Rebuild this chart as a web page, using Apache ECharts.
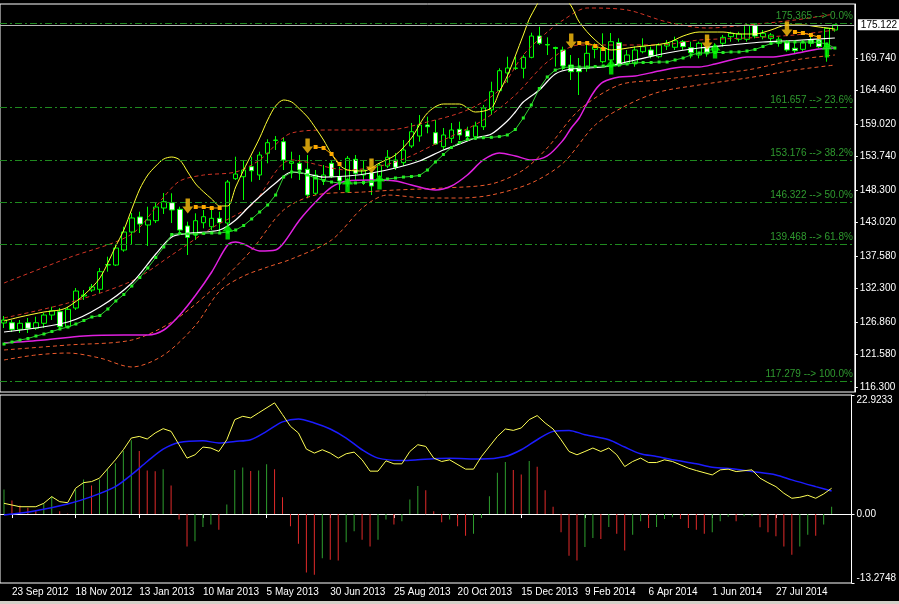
<!DOCTYPE html>
<html><head><meta charset="utf-8">
<script src="https://cdn.jsdelivr.net/npm/echarts@6/dist/echarts.min.js"></script>
<style>html,body{margin:0;padding:0;background:#000;}#c{width:899px;height:604px;}</style>
</head><body><div id="c"></div>
<script>
// ---------- DATA ----------
const tickLabels = ['23 Sep 2012','18 Nov 2012','13 Jan 2013','10 Mar 2013','5 May 2013','30 Jun 2013','25 Aug 2013','20 Oct 2013','15 Dec 2013','9 Feb 2014','6 Apr 2014','1 Jun 2014','27 Jul 2014'];
const firstWeek = '2012-09-16';
const weekCount = 107; // 105 bars + chart shift
const priceLabels = [169.740,164.460,159.020,153.740,148.300,143.020,137.580,132.300,126.860,121.580,116.300];
const lastPrice = 175.122;
const fibLevels = [[175.365,'0.0%'],[161.657,'23.6%'],[153.176,'38.2%'],[146.322,'50.0%'],[139.468,'61.8%'],[117.279,'100.0%']];
const oscLabels = [-13.2748, 0, 22.9233];

// candles: [open, close, low, high]
const candles = [
[126.70,127.18,125.88,127.83],[126.74,125.67,125.23,127.18],[125.67,126.65,125.07,127.18],[126.74,125.83,125.07,127.51],
[125.83,126.74,125.56,127.72],[126.65,127.99,125.88,128.32],[127.99,128.69,127.18,129.34],[128.53,126.09,125.72,129.13],
[126.09,128.92,126.04,129.34],[129.13,131.89,128.81,132.38],[131.08,131.24,130.43,132.05],[132.05,132.54,131.73,133.03],
[132.17,135.03,131.57,135.63],[136.11,136.20,135.03,137.46],[136.11,138.87,135.95,139.36],[138.55,141.47,138.27,142.33],
[141.47,143.75,139.36,144.56],[143.91,142.77,141.31,144.77],[142.61,143.42,139.20,145.58],[143.31,145.53,142.93,146.18],
[145.37,146.39,144.40,147.81],[146.23,145.05,142.93,147.76],[145.16,141.80,141.31,145.58],[142.45,140.61,137.74,143.15],
[140.99,143.31,140.17,144.51],[142.98,143.96,142.07,145.05],[142.33,143.70,141.80,145.05],[143.70,142.98,141.52,144.77],
[142.93,149.59,142.45,149.92],[150.13,150.89,149.92,153.70],[150.45,151.54,146.67,153.17],[152.08,151.43,149.64,153.70],
[150.73,153.98,149.92,154.51],[154.25,155.98,152.63,156.53],[156.33,156.41,154.79,157.06],[156.14,153.17,151.54,156.74],
[152.63,152.89,150.19,154.51],[152.63,151.54,149.92,153.98],[151.66,147.48,146.95,153.98],[147.76,150.73,147.48,151.54],
[149.92,150.73,149.11,152.35],[152.63,150.45,150.24,153.17],[150.45,149.76,148.29,152.08],[149.92,153.44,148.83,153.82],
[153.28,151.01,149.92,153.98],[150.73,151.54,149.11,153.17],[151.10,148.94,147.48,151.25],[150.45,152.35,149.92,152.68],
[152.19,153.61,151.87,154.79],[153.17,151.98,151.54,154.30],[152.73,154.79,152.19,156.41],[155.44,157.76,155.12,159.17],
[157.06,158.85,156.14,160.47],[158.85,158.57,157.50,160.20],[157.60,155.76,155.60,159.66],[155.33,157.23,154.79,158.36],
[156.69,158.04,155.93,159.17],[158.15,157.23,156.41,159.39],[157.92,156.95,156.69,158.57],[156.95,158.69,156.41,159.39],
[158.57,161.61,158.04,162.10],[161.29,164.26,160.47,165.88],[164.42,167.67,164.26,168.06],[167.30,168.11,165.72,169.94],
[168.03,168.11,167.78,169.94],[168.06,169.84,166.43,170.22],[169.84,173.30,169.68,173.84],[173.30,172.12,171.84,174.81],
[171.92,171.84,170.22,173.09],[171.44,171.27,168.32,171.57],[171.03,168.43,167.78,171.57],[168.59,167.51,166.16,170.22],
[168.06,167.51,163.72,169.73],[168.06,170.49,167.51,171.84],[171.14,171.57,169.68,172.12],[169.13,171.31,168.87,173.74],
[169.41,172.38,168.59,173.79],[172.22,168.59,168.32,172.93],[168.87,170.22,168.59,171.03],[168.87,171.03,168.32,171.57],
[170.75,171.57,170.49,172.93],[171.03,170.06,169.68,171.57],[169.94,171.84,169.68,172.12],[171.68,172.12,171.03,172.65],
[171.47,172.54,171.03,173.19],[172.38,171.57,171.03,172.65],[171.40,170.59,169.68,172.38],[170.22,172.12,169.68,172.38],
[171.40,170.59,169.94,171.45],[170.75,171.68,170.49,172.12],[172.12,173.09,171.57,173.47],[173.19,173.74,172.38,174.00],
[172.77,173.63,172.38,174.00],[172.77,175.09,172.38,175.37],[175.09,173.30,172.93,175.25],[173.19,173.74,172.77,174.28],
[172.93,173.47,172.38,173.79],[172.12,172.77,171.57,173.19],[172.38,171.03,170.75,172.65],[171.31,170.92,170.49,172.65],
[171.14,172.22,170.75,172.65],[172.65,172.12,171.57,173.19],[172.65,171.57,171.31,173.19],[171.57,174.55,169.13,174.60],
[174.28,175.12,174.00,175.12]
];

// green moving average (one value per bar)
const greenMA = [123.28,123.61,123.93,124.18,124.58,124.91,125.31,125.72,126.04,126.53,127.10,127.67,127.91,128.97,130.27,131.32,132.70,134.08,135.63,137.33,139.04,141.07,141.23,141.15,141.15,141.23,141.31,141.31,141.47,141.80,142.53,143.59,144.72,145.86,147.48,150.40,151.22,151.22,150.73,150.24,149.84,149.59,149.43,149.43,149.43,149.51,149.67,149.92,150.08,150.24,150.40,150.49,150.65,151.54,152.84,154.06,155.20,156.01,156.50,156.69,156.79,156.85,156.97,157.23,158.12,159.99,162.10,164.78,166.65,167.78,168.19,168.27,168.27,168.27,168.35,168.43,168.43,168.59,168.76,168.92,169.00,169.00,169.08,169.08,169.41,169.73,170.22,170.54,170.54,170.62,170.62,170.71,170.71,170.87,171.11,171.60,172.09,172.33,172.33,172.33,172.33,172.33,172.25,172.00,171.35];

// [barIndex, value] readings of the smooth lines
const whiteMA = [[0,125.23],[8,126.86],[12,129.29],[16,133.19],[19,137.90],[21,140.66],[23,141.23],[27,141.80],[29,143.42],[31,146.02],[34,149.43],[36,151.22],[38,150.89],[40,150.40],[43,150.57],[46,151.05],[49,151.87],[52,153.00],[55,154.79],[58,156.25],[59,156.74],[61,157.39],[63,159.50],[64,160.96],[65,162.58],[67,164.53],[69,167.13],[71,167.94],[75,168.27],[79,169.41],[83,170.54],[87,171.35],[91,171.84],[95,172.33],[99,172.57],[104,172.98]];
const upperBand = [[0,127.02],[2,127.67],[5,128.48],[7,128.81],[8,129.29],[10,131.24],[12,134.00],[14,139.20],[15,141.80],[16,145.21],[17,148.46],[18,150.73],[19,152.19],[20,153.33],[21,153.65],[22,153.17],[23,151.22],[24,149.27],[25,147.97],[26,146.83],[27,145.70],[28,145.70],[29,148.78],[30,151.54],[31,154.14],[32,156.74],[33,159.66],[34,161.94],[35,162.91],[36,162.59],[37,161.45],[38,160.15],[39,158.36],[40,156.41],[41,154.14],[42,152.35],[43,151.54],[45,151.38],[47,152.68],[49,153.98],[51,156.74],[53,160.80],[55,162.26],[57,162.26],[59,160.96],[61,161.61],[62,164.21],[63,166.81],[64,170.06],[65,173.47],[66,176.71],[68,180.12],[70,179.47],[71,178.18],[72,175.58],[74,172.65],[76,171.03],[79,171.52],[83,172.17],[85,173.30],[87,173.95],[90,173.95],[92,173.63],[94,173.63],[96,174.28],[98,175.09],[100,175.09],[102,174.77],[104,174.44]];
const lowerBand = [[0,123.45],[5,123.93],[10,124.58],[15,124.75],[18,124.75],[20,125.56],[22,128.00],[24,131.24],[26,134.98],[28,139.36],[29,139.85],[30,139.52],[32,138.39],[34,138.55],[35,139.69],[37,143.42],[39,146.35],[41,148.78],[43,149.76],[46,149.92],[49,149.76],[51,149.11],[54,148.29],[56,148.94],[58,150.73],[60,153.17],[62,154.30],[64,153.82],[66,153.17],[68,153.82],[70,156.41],[71,158.36],[72,159.99],[73,162.42],[74,164.53],[75,165.83],[77,166.65],[79,166.81],[82,167.62],[85,168.27],[87,168.27],[89,168.76],[91,169.41],[93,169.89],[96,169.89],[98,170.22],[100,170.71],[102,171.19],[104,171.35]];
const envUpperOuter = [[0,133.19],[8,137.25],[16,141.15],[20,147.16],[22,149.76],[25,150.73],[29,151.22],[32,153.17],[36,157.55],[41,158.04],[48,158.04],[53,159.34],[58,161.29],[62,164.53],[65,170.22],[68,173.95],[70,175.90],[73,177.85],[78,177.53],[83,175.58],[88,174.60],[93,175.09],[99,175.90],[104,176.88]];
const envUpperInner = [[0,127.51],[8,129.94],[16,133.52],[21,137.74],[26,142.12],[31,145.86],[36,153.17],[43,151.54],[49,152.84],[55,156.41],[60,159.66],[64,163.72],[68,169.08],[72,171.84],[77,171.84],[82,171.84],[87,172.65],[93,172.98],[99,173.47],[104,174.28]];
const envLowerInner = [[0,122.31],[8,123.12],[16,123.93],[21,126.86],[26,132.05],[31,138.55],[35,145.05],[39,147.48],[45,147.97],[49,148.29],[55,148.62],[61,149.27],[65,151.54],[68,155.12],[72,161.29],[77,165.35],[82,166.16],[87,166.97],[93,167.78],[99,169.41],[104,170.22]];
const envLowerOuter = [[0,120.69],[4,121.50],[8,121.82],[12,121.01],[16,119.55],[20,121.50],[24,126.37],[27,131.89],[30,134.33],[33,135.79],[36,137.09],[41,140.17],[45,145.53],[48,147.48],[53,146.99],[57,146.99],[61,147.48],[66,149.43],[70,152.68],[74,158.85],[78,162.10],[82,164.21],[87,165.35],[93,166.48],[99,167.78],[104,168.59]];
const stopSegments = [
  [[24,145.53],[25,145.53],[26,145.37],[27,145.37]],
  [[39,155.28],[40,155.12],[41,154.14],[42,152.52]],
  [[72,172.17],[73,172.17],[74,171.68],[75,171.19]],
  [[99,173.95],[100,173.79],[101,173.47],[102,173.14]]
];
const downArrows = [[23,145.70],[38,155.44],[46,152.19],[71,172.49],[88,172.33],[98,174.44]];
const upArrows = [[28,141.47],[43,149.11],[47,149.59],[76,168.27],[89,170.87],[103,171.03]];

// lower panel
const oscMain = [[0,2.07],[1,1.74],[2,1.41],[4,1.41],[5,2.07],[6,3.35],[7,2.38],[8,2.19],[9,4.97],[10,6.05],[11,6.25],[12,6.91],[14,10.44],[15,12.38],[16,14.64],[17,14.95],[18,14.45],[19,15.61],[20,16.44],[21,15.92],[22,13.35],[23,10.77],[24,11.41],[25,12.90],[26,12.71],[27,12.05],[28,14.31],[29,18.18],[30,18.82],[31,18.51],[32,19.48],[34,21.41],[35,19.15],[36,16.89],[37,15.61],[38,12.51],[39,11.74],[40,12.38],[41,11.74],[42,10.77],[43,11.61],[44,11.93],[45,10.44],[46,8.26],[47,8.26],[48,10.25],[49,9.67],[50,9.67],[51,12.05],[52,13.35],[53,13.02],[54,10.77],[55,10.12],[56,10.44],[58,8.65],[59,8.65],[60,11.08],[62,14.95],[63,16.38],[64,16.11],[65,16.58],[66,18.18],[67,18.96],[68,17.54],[69,16.38],[70,14.31],[71,12.05],[72,11.41],[73,12.05],[74,12.71],[75,12.05],[76,12.71],[77,11.41],[78,9.15],[79,10.12],[80,10.77],[81,9.92],[82,9.92],[83,10.44],[84,10.12],[86,8.84],[87,8.38],[89,7.54],[90,8.51],[91,8.65],[92,8.18],[94,8.51],[95,6.91],[96,6.05],[97,5.28],[98,4.00],[99,3.04],[100,3.23],[101,3.62],[102,3.04],[103,3.87],[104,4.97]];
const oscSignal = [[0,-0.19],[4,0.64],[8,1.93],[11,3.35],[14,5.28],[16,7.54],[18,10.12],[20,12.51],[22,13.79],[25,14.12],[27,13.68],[29,13.98],[31,14.31],[33,15.92],[35,17.74],[37,18.32],[39,17.54],[41,16.38],[43,14.64],[45,12.38],[47,10.77],[50,10.31],[52,10.44],[54,10.64],[56,10.73],[60,10.58],[63,11.08],[65,12.38],[67,14.31],[69,15.92],[71,16.11],[73,15.28],[76,14.31],[78,12.90],[80,11.61],[82,11.08],[84,10.44],[87,9.67],[89,9.03],[92,8.65],[94,8.18],[97,7.54],[99,6.58],[102,5.28],[104,4.45]];
const oscHist = [4.74,2.61,1.64,1.20,0.74,2.03,3.44,0.54,0.10,4.74,6.67,5.51,6.67,8.61,9.77,12.15,14.22,12.15,8.41,8.22,8.61,5.51,-1.06,-6.23,-5.26,-2.48,-2.03,-3.00,1.84,8.47,8.94,8.28,8.41,9.57,8.61,3.25,-2.36,-5.71,-11.26,-11.70,-8.50,-8.80,-8.94,-5.45,-3.33,-4.93,-6.23,-4.93,-1.06,-2.03,-1.39,2.80,5.38,4.60,0.54,-1.59,-1.06,-2.36,-4.16,-3.77,-0.74,3.44,7.97,10.02,8.47,7.64,10.21,9.13,4.60,1.39,-3.52,-8.03,-8.94,-6.34,-4.60,-4.80,-2.48,-3.77,-7.00,-3.97,-1.39,-2.67,-2.48,-0.93,-0.62,-0.93,-2.67,-3.00,-3.77,-3.52,-1.39,-0.54,-1.39,-0.43,-0.40,-2.55,-3.52,-4.29,-6.23,-7.83,-6.23,-3.97,-4.16,-2.03,1.39];

// ---------- BUILD ----------
const MONTHS = ['Jan','Feb','Mar','Apr','May','Jun','Jul','Aug','Sep','Oct','Nov','Dec'];
const categories = [];
{
  const d0 = Date.parse(firstWeek + 'T00:00:00Z');
  for (let i = 0; i < weekCount; i++) {
    const d = new Date(d0 + i * 7 * 86400000);
    categories.push(d.getUTCDate() + ' ' + MONTHS[d.getUTCMonth()] + ' ' + d.getUTCFullYear());
  }
}
const showTick = (idx, val) => tickLabels.indexOf(categories[idx]) >= 0;
const FONT = 'Liberation Sans';
const downPath = 'path://M3,0 L7,0 L7,7 L10,7 L5,13 L0,7 L3,7 Z';
const upPath = 'path://M5,0 L10,6 L7,6 L7,13 L3,13 L3,6 L0,6 Z';

const dashLine = (name, data, color) => ({
  name, type: 'line', xAxisIndex: 0, yAxisIndex: 0, data, smooth: 0.3,
  symbol: 'none', lineStyle: { color, width: 1, type: [4, 3] }, z: 3, silent: true
});

const fibMarks = fibLevels.map(([v, p]) => ({
  yAxis: v,
  lineStyle: { color: '#1f8a1f', width: 1, type: [7, 3, 2, 3] },
  label: { show: true, position: 'insideEndTop', formatter: v.toFixed(3) + ' --> ' + p, color: '#2f9a2f', fontSize: 10, fontFamily: FONT, distance: 2 }
}));

const series = [
  {
    name: 'price', type: 'candlestick', xAxisIndex: 0, yAxisIndex: 0, data: candles, barWidth: 5,
    itemStyle: { color: '#000000', color0: '#ffffff', borderColor: '#00ff00', borderColor0: '#00ff00', borderWidth: 1 },
    z: 2, silent: true,
    markLine: {
      silent: true, symbol: ['none', 'none'], animation: false,
      data: fibMarks.concat([{
        yAxis: lastPrice,
        lineStyle: { color: '#b8b8b8', width: 1, type: 'solid' },
        label: { show: true, position: 'end', formatter: lastPrice.toFixed(3), backgroundColor: '#ffffff', color: '#000000', fontSize: 10, fontFamily: FONT, padding: [1, 3, 0, 3], distance: 3 }
      }])
    }
  },
  dashLine('envUO', envUpperOuter, '#d23526'),
  dashLine('envUI', envUpperInner, '#d23526'),
  dashLine('envLI', envLowerInner, '#ee5a2c'),
  dashLine('envLO', envLowerOuter, '#ee5a2c'),
  { name: 'upper', type: 'line', data: upperBand, smooth: 0.3, symbol: 'none', lineStyle: { color: '#ffff33', width: 1 }, z: 4, silent: true },
  { name: 'lower', type: 'line', data: lowerBand, smooth: 0.3, symbol: 'none', lineStyle: { color: '#e020e0', width: 1.5 }, z: 4, silent: true },
  { name: 'white', type: 'line', data: whiteMA, smooth: 0.3, symbol: 'none', lineStyle: { color: '#ffffff', width: 1.2 }, z: 5, silent: true },
  { name: 'green', type: 'line', data: greenMA, symbol: 'rect', symbolSize: 3, showAllSymbol: true,
    itemStyle: { color: '#22ee22' }, lineStyle: { color: '#33cc33', width: 1 }, z: 5, silent: true },
];
stopSegments.forEach((seg, i) => series.push({
  name: 'stop' + i, type: 'line', data: seg, symbol: 'rect', symbolSize: 4, showAllSymbol: true,
  itemStyle: { color: '#ffaa00' }, lineStyle: { color: '#ffaa00', width: 1 }, z: 6, silent: true
}));
series.push(
  { name: 'down', type: 'scatter', data: downArrows, symbol: downPath, symbolSize: [11, 15], itemStyle: { color: '#ffc20e' }, z: 8, silent: true },
  { name: 'up', type: 'scatter', data: upArrows, symbol: upPath, symbolSize: [11, 15], itemStyle: { color: '#00ff00' }, z: 8, silent: true },
  { name: 'hist', type: 'bar', xAxisIndex: 1, yAxisIndex: 1, data: oscHist, barWidth: 1, silent: true,
    itemStyle: { color: p => (p.dataIndex === 0 || oscHist[p.dataIndex] >= oscHist[p.dataIndex - 1]) ? '#2e9e2e' : '#e02a2a' } },
  { name: 'signal', type: 'line', xAxisIndex: 1, yAxisIndex: 1, data: oscSignal, smooth: 0.3, symbol: 'none', lineStyle: { color: '#1c1cff', width: 1.5 }, silent: true },
  { name: 'main', type: 'line', xAxisIndex: 1, yAxisIndex: 1, data: oscMain, symbol: 'none', lineStyle: { color: '#ffff55', width: 1 }, silent: true }
);

const chart = echarts.init(document.getElementById('c'), null, { renderer: 'canvas' });
chart.setOption({
  backgroundColor: '#000000',
  animation: false,
  textStyle: { fontFamily: FONT },
  graphic: [
    { type: 'rect', left: 0, top: 601, shape: { width: 899, height: 3 }, style: { fill: '#d4d0c8' }, silent: true }
  ],
  grid: [
    { left: 0, right: 43, top: 4, height: 388, show: true, borderColor: '#ffffff', borderWidth: 1, backgroundColor: 'transparent' },
    { left: 0, right: 43, top: 395, height: 188, show: true, borderColor: '#ffffff', borderWidth: 1, backgroundColor: 'transparent' }
  ],
  xAxis: [
    { type: 'category', gridIndex: 0, data: categories, boundaryGap: true, show: false },
    { type: 'category', gridIndex: 1, data: categories, boundaryGap: true,
      axisLine: { show: true, lineStyle: { color: '#ffffff' } },
      axisTick: { show: true, interval: showTick, alignWithLabel: true, length: 4, lineStyle: { color: '#ffffff' } },
      axisLabel: { show: true, interval: showTick, color: '#ffffff', fontSize: 10, fontFamily: FONT, align: 'left', margin: 4 },
      splitLine: { show: false } }
  ],
  yAxis: [
    { type: 'value', gridIndex: 0, position: 'right', min: 115.49, max: 178.50, scale: true,
      axisLine: { show: true, lineStyle: { color: '#ffffff' } },
      axisTick: { show: true, customValues: priceLabels, length: 3, lineStyle: { color: '#ffffff' } },
      axisLabel: { show: true, customValues: priceLabels, formatter: v => v.toFixed(3), color: '#ffffff', fontSize: 10, fontFamily: FONT, margin: 5 },
      splitLine: { show: false } },
    { type: 'value', gridIndex: 1, position: 'right', min: -13.2748, max: 22.9233,
      axisLine: { show: true, lineStyle: { color: '#ffffff' } },
      axisTick: { show: true, customValues: oscLabels, length: 3, lineStyle: { color: '#ffffff' } },
      axisLabel: { show: true, customValues: oscLabels, formatter: v => v === 0 ? '0.00' : String(v), color: '#ffffff', fontSize: 10, fontFamily: FONT, margin: 5,
        verticalAlignMaxLabel: 'top', verticalAlignMinLabel: 'bottom' },
      splitLine: { show: false } }
  ],
  series
});
</script>
</body></html>
